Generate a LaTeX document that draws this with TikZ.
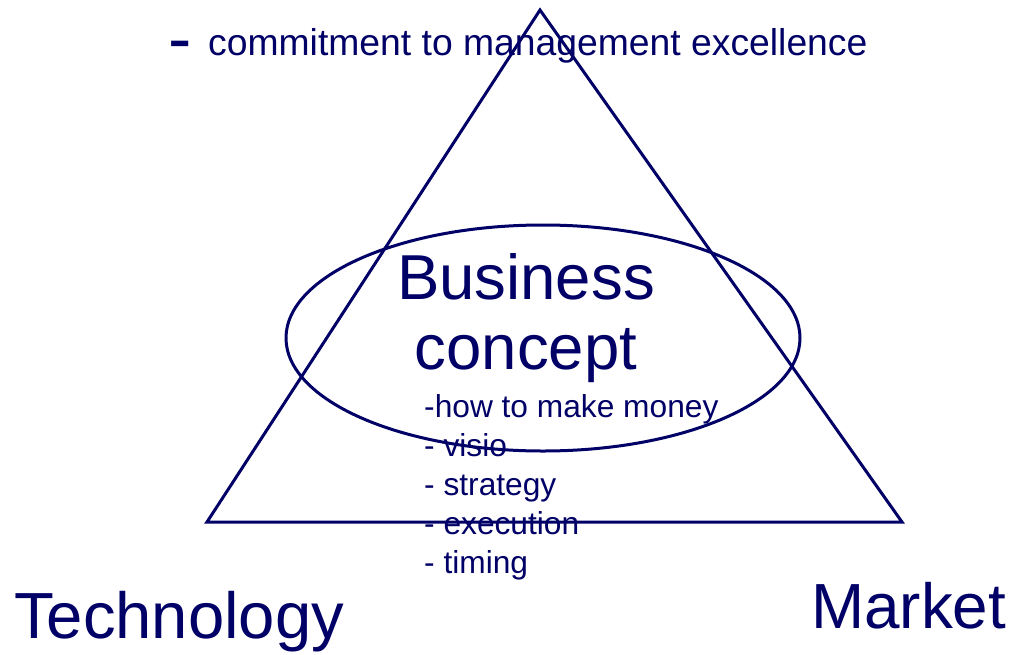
\documentclass[tikz,border=0pt]{standalone}
\usepackage{fontspec}
\setmainfont{Liberation Sans}
\definecolor{navy}{HTML}{000066}
\begin{document}
\begin{tikzpicture}[x=1pt,y=-1pt,
  shape line/.style={draw=navy,line width=3pt},
  label text/.style={text=navy,inner sep=0pt,anchor=base west},
  big/.style={font=\fontsize{63.5}{70}\selectfont},
  small/.style={font=\fontsize{31.7}{39}\selectfont},
  top/.style={font=\fontsize{37.3}{44}\selectfont}]
\useasboundingbox (0,0) rectangle (1010,654);
% triangle of the three pillars
\coordinate (apex) at (540,10);
\coordinate (left) at (207,522);
\coordinate (right) at (902,522);
\draw[shape line,line join=miter] (apex) -- (left) -- (right) -- cycle;
% business concept ellipse
\draw[shape line] (543,338) ellipse [x radius=257, y radius=113];
% texts
\node[label text,font=\fontsize{70}{70}\selectfont] (dash) at (168,62) {-};
\node[label text,top] (mgmt) at (208,55) {commitment to management excellence};
\node[text=navy,inner sep=0pt,big,align=center,anchor=north] (concept) at (526,253) {Business\\concept};
\node[text=navy,inner sep=0pt,small,align=left,anchor=north west] (list) at (424,394) {-how to make money\\- visio\\- strategy\\- execution\\- timing};
\node[label text,font=\fontsize{65.2}{70}\selectfont] (tech) at (14,638) {Technology};
\node[label text,font=\fontsize{63.8}{70}\selectfont] (market) at (811,628) {Market};
\end{tikzpicture}
\end{document}
